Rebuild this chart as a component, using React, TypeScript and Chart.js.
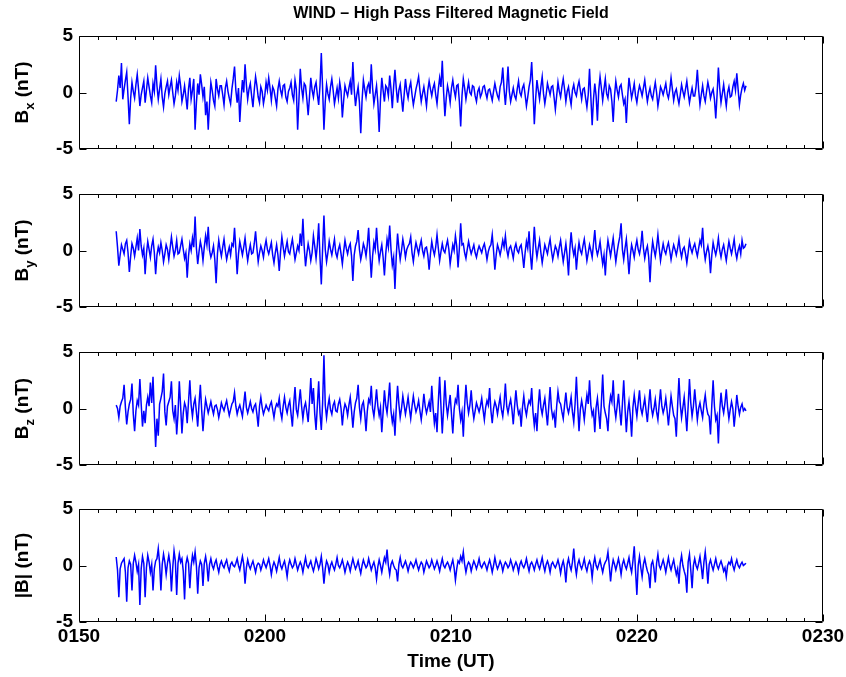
import React, { useEffect, useRef } from "react";
import { Chart, registerables } from "chart.js";

Chart.register(...registerables);

// Time axis: minutes after 01:50 UT
const X_MIN = 0;
const X_MAX = 40;
const X_TICKS = [0, 10, 20, 30, 40];
const X_TICK_LABELS = ["0150", "0200", "0210", "0220", "0230"];
const Y_TICKS = [-5, 0, 5];
const T_START = 2.0; // 01:52 UT
const T_END = 35.86; // ~02:25:52 UT

const TITLE = "WIND \u2013 High Pass Filtered Magnetic Field";
const X_TITLE = "Time (UT)";

// Bx (nT)
const bx = [
  -0.8, 0.2, 1.5, 0.4, 2.6, -0.6, 0.3, 1.1, 1.8, -0.4, -2.8, -0.5, 0.9, 0.1, -0.5, 0.7, 1.6, 0.3, -1.2, -0.2,
  0.4, 1.0, -0.9, 0.2, 1.3, 0.5, -0.3, -0.9, 0.8, 0.1, 2.4, 0.6, -0.6, 0.3, 1.2, -0.4, -1.3, -0.1, 0.5, 1.0,
  -0.2, 0.5, 1.1, 0.0, -1.0, -0.3, 0.9, 0.2, 1.5, 0.6, -0.8, -0.2, 0.6, -0.4, -1.5, 0.3, 1.3, -0.6, 0.2, 1.2,
  -3.3, -0.9, 0.8, -0.2, 1.6, 0.7, -0.4, 0.5, -2.0, -0.8, -3.3, -1.0, 0.9, 0.2, -0.7, -1.2, 1.2, 0.3, -0.3, 0.6,
  0.6, -0.2, -1.1, 0.4, 1.0, 0.1, -0.5, -1.0, 0.3, 1.2, 2.3, 0.2, -0.9, 0.4, -2.6, -0.5, 1.1, 0.0, 2.5, 0.7,
  -0.6, 0.3, 0.8, -0.3, -1.3, 0.2, 1.4, 0.6, -0.4, -0.9, 0.5, 0.1, -1.0, -0.3, 0.9, 0.2, 1.3, 0.4, -0.7, 0.5,
  0.2, -0.5, -1.2, 0.3, 1.0, 0.2, -0.3, 0.6, 0.7, -0.4, -0.8, 0.1, 0.4, 0.9, -0.2, -0.7, 1.1, 0.3, -3.3, -0.6,
  2.1, 0.4, -0.5, 0.8, 0.6, -0.6, -2.0, -0.4, 1.3, 0.2, -0.4, 0.5, 0.9, -0.2, -1.1, 0.6, 3.5, 0.3, -3.3, -0.8,
  0.7, -0.1, -0.6, 0.5, 1.2, 0.2, -1.0, -0.3, 0.4, -0.5, 0.9, 0.1, -2.2, -0.7, 0.6, 0.1, -0.3, 0.4, 1.0, -0.2,
  2.7, 0.3, -1.2, -0.2, 0.5, -0.9, -3.6, -0.7, 1.1, 0.3, -0.4, 0.5, 0.8, -0.1, 2.5, 0.4, -1.0, -0.2, 0.6, -0.9,
  -3.5, -0.6, 1.3, 0.2, -0.8, 0.6, 0.4, -0.3, 1.5, 0.3, -1.4, 0.5, 2.0, 0.4, -0.9, 0.2, 0.7, -0.5, -1.7, -0.2,
  1.2, 0.1, -0.5, 0.4, 0.9, -0.2, -1.1, -0.4, 0.3, 0.8, 1.4, 0.2, -0.8, -0.1, 0.5, -0.3, -1.2, 0.2, 1.0, 0.3,
  -0.3, 0.4, 0.8, -0.2, -1.0, 0.3, 1.3, 0.5, 2.8, 0.1, -2.1, -0.5, 0.6, 0.0, -0.9, 0.4, 1.1, 0.2, -0.4, 0.6,
  0.7, -0.8, -3.0, -0.3, 1.2, 0.4, -0.6, 0.2, 0.9, 0.0, -0.2, 0.6, 0.5, -0.3, -0.8, 0.1, 0.4, -0.4, -0.1, 0.5,
  0.6, 0.0, -0.5, 0.2, 0.3, -0.2, -0.7, 0.1, 0.8, 0.2, -0.3, -0.6, 0.5, 0.9, 2.2, 0.3, -1.1, 0.4, 2.3, 0.1,
  -0.8, -0.2, 0.4, -0.3, -0.6, 0.3, 1.0, 0.0, -0.3, 0.4, 0.7, -0.2, -1.2, -0.4, 0.5, 1.1, 2.7, 0.2, -2.8, -0.6,
  1.1, 0.2, -0.6, 0.5, 1.4, -0.1, -1.0, -0.2, 0.8, 0.3, -0.2, 0.5, 0.6, -0.4, -1.5, -0.3, 0.9, 0.1, -0.4, 0.5,
  1.2, 0.3, -0.8, 0.1, 0.5, -0.4, -1.1, 0.2, 0.7, 0.0, -0.3, 0.5, 1.0, 0.2, -0.6, 0.3, 0.4, -0.5, -1.3, -0.2,
  2.1, -0.4, -2.9, -0.6, 0.8, -0.3, -2.5, 0.2, 1.4, 0.4, -0.7, 0.3, 1.2, -0.1, -0.5, 0.6, 0.3, -0.8, -2.6, -0.3,
  1.0, 0.2, -0.4, 0.5, 0.7, -0.2, -1.0, -0.6, -2.7, -0.4, 1.3, 0.4, -0.5, 0.1, 0.8, -0.3, -0.9, 0.0, 0.6, 0.2,
  -0.3, 0.4, 1.1, 0.1, -0.8, -0.1, 0.4, -0.3, -0.6, 0.2, 0.9, 0.0, -1.2, -0.4, 0.5, 0.2, -0.2, 0.3, 0.8, -0.1,
  -0.5, 0.2, 1.3, 0.3, -0.7, 0.0, 0.3, -0.4, -1.0, -0.2, 0.7, 0.1, -0.4, 0.3, 1.0, 0.0, -0.9, -0.2, 0.4, -0.3,
  -0.3, 0.5, 2.0, 0.2, -1.1, -0.2, 0.6, -0.3, -0.8, 0.1, 0.9, 0.3, -0.5, 0.0, 0.3, -0.6, -2.3, -0.2, 2.2, 0.4,
  -0.9, -0.1, 0.7, -0.3, -1.2, 0.0, 0.5, -0.4, -0.3, 0.5, 1.0, 0.2, 1.7, 0.3, -1.1, -0.2, 0.4, 0.8, 0.2, 0.6,
];

// By (nT)
const by = [
  1.7, 0.3, -1.35, -0.4, 0.5, 0.1, -0.3, 0.6, 0.9, -0.2, -1.9, -0.5, 0.6, 0.2, -0.5, 0.3, 1.1, 0.0, 1.9, 0.4,
  -0.4, 0.2, -2.1, -0.3, 0.8, 0.1, -0.6, 0.4, 1.0, -0.2, -2.1, -0.4, 0.3, -0.2, 0.7, 0.0, -1.0, -0.3, 0.5, 0.1,
  -0.8, 0.2, 1.2, 0.3, -0.5, 0.0, 0.9, -0.3, -0.2, 0.4, 1.0, 0.1, -0.7, -0.2, -2.4, -0.5, 0.6, 0.0, 1.1, 0.3,
  3.0, 0.2, -1.2, -0.1, 0.8, 0.2, -0.9, 0.3, 1.3, 0.5, 2.1, 0.0, -0.6, -0.2, 0.4, -0.8, -2.9, -0.3, 0.9, 0.1,
  -0.5, 0.3, 1.0, 0.0, -0.8, -0.2, 0.3, -0.4, 0.6, 0.4, 2.0, 0.1, -2.1, -0.3, 0.8, 0.2, -0.4, 0.3, 1.1, 0.0,
  -0.9, -0.1, 0.5, -0.3, -0.2, 0.6, 1.7, 0.2, -1.0, -0.2, 0.4, 0.0, -0.6, 0.3, 0.9, 0.1, -0.3, 0.2, 0.7, -0.4,
  -1.1, -0.2, 0.5, -0.4, -1.8, -0.1, 1.2, 0.3, -0.5, 0.2, 0.8, -0.1, -0.3, 0.4, 1.0, 0.1, -0.8, -0.2, 0.4, 0.0,
  1.5, 0.4, 2.8, 0.3, -1.4, -0.3, 0.6, 0.0, -0.9, -0.2, 1.3, 0.4, -0.7, 0.5, 2.4, -0.6, -3.0, 0.2, 3.1, 0.1,
  -1.0, -0.2, 0.8, 0.1, -0.4, 0.3, 1.0, -0.2, -0.6, 0.1, 0.5, -0.3, -1.2, -0.1, 0.9, 0.2, -0.3, 0.3, 0.6, -0.5,
  -2.7, -0.4, 0.4, 0.8, 1.8, 0.1, -0.8, -0.2, 0.6, 0.2, -0.5, 0.5, 2.0, -0.3, -2.4, -0.5, 0.7, 0.1, 2.0, 0.2,
  -0.9, -0.1, 0.5, -0.6, -2.2, -0.3, 1.0, 0.3, 2.2, 0.1, -1.3, -0.6, -3.4, -0.5, 1.5, 0.2, -0.8, 0.0, 1.0, 0.3,
  -0.6, 0.1, 0.4, 0.6, 1.2, -0.2, -1.0, 0.0, 0.7, 0.2, -0.3, 0.4, 0.9, 0.0, -0.5, 0.2, 0.3, -0.4, -1.7, -0.3,
  0.8, 0.1, -0.4, 0.3, 1.4, 0.2, -0.9, -0.1, 0.6, 0.0, -0.2, 0.4, 0.9, 0.1, -1.2, -0.3, 0.5, 0.0, 1.3, 0.4,
  -1.5, 0.2, 2.4, 0.5, 0.6, -0.2, -0.7, 0.1, 0.8, 0.2, -0.3, 0.1, 0.5, -0.2, -0.6, 0.0, 0.4, 0.1, -0.2, 0.3,
  0.6, 0.0, -0.8, -0.1, 0.3, 0.5, 1.4, 0.0, -1.7, -0.4, 0.5, 0.1, -0.4, 0.2, 0.9, 0.3, 1.3, 0.1, -0.5, 0.2,
  0.4, -0.1, -0.7, 0.2, 0.6, 0.0, -0.2, 0.3, 0.5, -0.4, -1.55, -0.2, 0.8, 0.2, 1.7, -0.3, -1.7, 0.1, 2.1, 0.4,
  -0.6, 0.2, 0.9, -0.2, -1.1, -0.3, 0.5, 0.1, -0.3, 0.4, 1.0, 0.0, -0.8, -0.2, 0.4, 0.1, -0.5, 0.3, 0.9, -0.1,
  -1.0, -0.2, 0.6, -0.5, -2.2, 0.1, 1.6, 0.3, -0.4, 0.2, -1.7, -0.3, 0.7, 0.0, -0.3, 0.4, 1.0, 0.1, -0.9, -0.2,
  0.5, 0.0, -0.6, 0.6, 1.8, 0.2, -0.4, 0.1, 0.8, -0.3, -1.2, -0.4, -2.2, -0.2, 0.9, 0.2, -0.5, 0.3, 1.1, 0.0,
  -1.0, -0.1, 0.6, 1.2, 2.4, 0.1, -0.8, 0.2, 1.0, -0.4, -2.1, -0.5, 0.5, 0.0, -0.6, 0.3, 0.9, 0.1, -0.3, 0.4,
  1.75, 0.2, -0.7, 0.0, 0.4, -0.6, -2.8, -0.4, 0.8, 0.1, -0.5, 0.3, 1.4, 0.2, -0.9, -0.1, 0.6, 0.0, -0.3, 0.3,
  0.7, 0.0, -0.8, -0.1, 0.5, 0.1, -0.4, 0.2, 1.0, 0.0, -0.6, 0.1, 0.3, -0.3, -1.1, -0.2, 0.8, 0.2, -0.2, 0.3,
  0.6, 0.0, -0.5, 0.2, 0.9, 0.5, 2.0, 0.1, -0.8, -0.1, 0.4, -0.3, -2.0, -0.4, 0.7, 0.1, -0.4, 0.2, 1.1, 0.0,
  -0.6, 0.1, 0.5, -0.2, -0.9, 0.0, 0.8, 0.2, -0.3, 0.3, 1.0, -0.1, -0.7, 0.0, 0.4, -0.3, 0.9, 0.2, 0.3, 0.6,
];

// Bz (nT)
const bz = [
  0.3, 0.0, -0.8, 0.2, 0.6, 0.9, 2.1, 0.1, -1.4, -0.3, 0.4, 0.8, 2.2, -0.5, -2.0, -0.2, 0.7, 0.3, 2.6, 0.4,
  -1.6, -0.2, -1.3, 0.3, 1.0, 0.2, 2.3, 0.5, 2.8, -0.6, -3.4, -0.9, -2.4, 0.4, 0.9, 1.5, 3.1, -0.3, -1.5, 0.2,
  0.6, 1.0, 2.4, -0.2, -0.9, 0.3, -2.3, -0.5, 2.4, 0.2, -2.2, -0.4, 0.5, 0.1, -1.3, 0.6, 2.5, 0.3, -0.7, 0.4,
  0.9, -0.3, -1.6, 0.4, 2.1, -0.1, -2.0, -0.4, 0.8, 0.2, -0.4, 0.1, 0.6, 0.0, -0.5, 0.2, 0.3, -0.1, -0.8, -0.2,
  0.5, 0.1, -0.2, 0.3, 0.7, 0.0, -0.6, -0.1, 0.4, 0.6, 1.4, 0.2, -0.5, 0.0, 0.3, -0.2, -0.7, 0.4, 1.5, 0.1,
  -0.4, 0.1, 0.6, 0.0, -0.3, 0.2, 0.4, -0.5, -1.6, 0.2, 1.0, 0.1, -0.5, -0.1, 0.3, 0.0, -0.2, 0.3, 0.6, -0.1,
  -0.8, 0.0, 0.4, 0.2, 0.9, -0.3, -0.9, 0.2, 1.0, 0.1, -0.4, 0.3, 0.7, -0.5, -1.6, 0.4, 1.9, -0.1, -0.6, 0.5,
  1.7, 0.2, -0.9, 0.1, 0.5, -0.3, -1.2, 0.6, 2.7, 0.4, 1.8, -0.5, -1.9, 0.3, 2.4, -0.4, -1.9, 0.5, 4.7, 0.3,
  -0.8, 0.2, 0.9, -0.1, -0.5, 0.3, 0.6, -0.2, -0.3, 0.4, 0.8, 0.0, -1.5, -0.2, 0.4, 0.1, -0.6, 0.3, 1.0, -0.2,
  -1.7, -0.3, 0.5, 0.9, 2.1, 0.1, -0.9, 0.3, 0.6, -0.4, -2.0, -0.2, 0.8, 0.5, 2.0, 0.0, -0.7, 0.4, 1.7, 0.2,
  -0.6, 0.1, -2.1, -0.3, 1.6, 0.3, -0.4, 0.8, 2.3, -0.2, -1.2, -0.5, -2.4, 0.1, 2.0, 0.4, -0.8, 0.0, 1.1, 0.3,
  -0.5, 0.2, 1.0, 0.0, -0.9, 0.2, 1.1, 0.3, -0.3, 0.1, 0.7, -0.2, -1.0, 0.0, 1.3, 0.2, -0.4, 0.1, 0.6, -0.3,
  2.0, 0.1, -1.3, -0.4, -2.1, 0.6, 2.8, 0.2, -2.2, 0.0, 2.5, 0.4, -0.6, 0.3, 1.2, -0.5, -2.2, -0.1, 0.8, 0.5,
  2.1, 0.0, -1.0, -0.3, -2.5, 0.2, 2.1, 0.5, -0.4, 0.3, 1.6, 0.0, -0.9, -0.2, 0.5, 0.1, -0.3, 0.2, 0.9, -0.1,
  -1.0, 0.1, 0.7, 0.3, 1.8, -0.2, -1.3, 0.0, 0.6, 0.2, -0.5, 0.3, 1.0, -0.1, -0.7, 0.4, 2.2, 0.2, -0.4, 0.3,
  0.8, -0.1, -1.4, 0.2, 1.6, 0.3, -0.5, -0.2, -1.6, 0.1, 1.1, 0.0, -0.6, 0.2, 0.7, 0.4, 1.8, -0.3, -1.5, -0.4,
  -2.0, 0.2, 1.7, 0.1, -0.5, 0.3, 0.9, -0.3, -1.5, 0.2, 1.9, 0.0, -0.8, -0.4, -1.7, 0.2, 1.5, 0.6, 0.4, -0.3,
  -0.9, 0.3, 1.4, 0.1, -0.4, 0.2, 1.0, -0.3, -1.2, 0.4, 2.8, 0.2, -2.0, -0.1, 0.7, 0.0, -1.0, 0.2, 1.2, 0.4,
  2.5, 0.3, -0.6, -0.2, -2.1, 0.1, 0.9, -0.4, -1.8, 0.5, 3.0, 0.2, -0.4, -0.9, -2.0, 0.2, 1.1, 0.6, 2.5, 0.1,
  -0.8, 0.2, 1.3, -0.2, -1.5, 0.4, 2.5, 0.0, -2.1, -0.3, 0.6, -0.6, -2.5, 0.1, 1.2, 0.2, -0.7, 0.5, 1.6, 0.0,
  -0.5, 0.2, 0.9, -0.2, -1.2, 0.3, 1.7, 0.1, -0.6, 0.0, 0.8, -0.3, -1.0, 0.4, 1.7, 0.2, -0.4, 0.1, 0.9, -0.2,
  -1.5, -0.2, 1.1, 0.2, -0.6, -0.9, -2.5, 0.3, 2.7, 0.4, -0.8, 0.1, 1.0, -0.4, -2.0, 0.2, 2.6, 0.5, -0.7, 0.2,
  1.7, 0.3, -1.0, 0.0, 0.5, -0.2, -0.8, 0.4, 1.2, 0.1, -0.5, -0.7, -2.3, 0.3, 2.5, 0.2, -1.0, -0.6, -3.1, -0.2,
  1.4, 0.2, -0.4, 0.5, 1.7, 0.1, -0.9, -0.1, 0.6, 0.0, -1.6, -0.3, 1.2, 0.2, -0.5, 0.1, 0.4, -0.2, 0.0, -0.2,
];

// |B| (nT)
const bmag = [
  0.75, -0.4, -2.8, -0.3, 0.2, 0.4, 0.6, -0.6, -3.2, -0.2, 0.4, 0.1, -2.2, 0.2, 0.9, 0.3, -0.5, 0.1, -3.5, -0.3,
  0.8, 0.2, -2.8, -0.2, 0.9, 0.3, -0.6, 0.1, -2.2, -0.3, 0.4, 0.6, 1.5, 0.2, -2.2, 0.1, 1.0, 0.3, -0.8, 0.2,
  0.9, 0.1, -2.3, -0.2, 1.3, 0.4, -2.6, 0.2, 1.0, 0.3, 0.6, -0.5, -3.0, 0.1, 0.7, 0.2, -2.0, -0.1, 0.9, 0.3,
  1.2, 0.0, -2.5, -0.2, 0.4, 0.1, -1.8, 0.2, 0.8, 0.0, -1.4, 0.1, 0.6, 0.0, -0.3, 0.2, 0.5, -0.1, -0.6, 0.1,
  0.4, 0.0, -0.2, 0.2, 0.5, -0.1, -0.5, 0.1, 0.3, 0.0, -0.1, 0.2, 0.6, 0.0, -0.4, 0.2, 0.8, 0.1, -1.6, -0.2,
  0.5, 0.0, -0.3, 0.1, 0.4, -0.1, -0.6, 0.0, 0.2, 0.1, -0.4, 0.0, 0.5, 0.1, -0.2, 0.2, 0.6, 0.0, -0.8, -0.1,
  0.3, 0.0, -0.5, 0.1, 0.7, 0.0, -0.3, 0.1, 0.4, -0.2, -1.0, 0.0, 0.5, 0.1, -0.2, 0.0, 0.6, 0.1, -0.4, 0.0,
  0.3, 0.0, -0.6, 0.1, 0.7, 0.0, -0.2, 0.1, 0.4, -0.1, -0.5, 0.0, 0.6, 0.2, -0.3, 0.1, 0.8, -0.2, -1.6, -0.3,
  0.4, 0.1, -0.6, 0.0, 0.3, -0.1, -0.4, 0.1, 0.7, 0.0, -0.2, 0.1, 0.5, 0.0, -0.6, -0.1, 0.3, 0.0, -0.5, 0.1,
  0.6, 0.1, -0.3, 0.0, 0.4, -0.2, -0.7, 0.0, 0.5, 0.1, -0.2, 0.0, 0.6, 0.1, -0.4, 0.0, 0.3, -0.2, -1.2, -0.1,
  0.5, 0.0, -0.6, 0.1, 0.7, 0.3, 1.4, 0.0, -0.8, 0.1, 0.4, 0.0, -0.3, -0.4, -1.4, 0.1, 0.7, 0.0, -0.2, 0.1,
  0.4, 0.0, -0.5, 0.0, 0.3, 0.1, -0.2, 0.1, 0.5, 0.0, -0.4, 0.0, 0.3, 0.1, -0.6, -0.1, 0.4, 0.1, -0.2, 0.0,
  0.5, 0.1, -0.3, 0.0, 0.4, 0.0, -0.5, 0.1, 0.6, 0.0, -0.2, 0.1, 0.3, 0.0, -0.4, 0.1, 0.5, -0.2, -1.3, -0.3,
  0.4, 0.2, 0.8, 0.4, 1.2, 0.1, -0.6, 0.0, 0.3, 0.1, -0.5, 0.0, 0.4, 0.1, -0.3, 0.1, 0.6, 0.0, -0.2, 0.1,
  0.3, 0.0, -0.4, 0.1, 0.5, 0.0, -0.6, 0.0, 0.7, 0.1, -0.3, 0.0, 0.4, 0.1, -0.5, 0.0, 0.3, 0.1, -0.2, 0.0,
  0.5, 0.1, -0.4, 0.0, 0.3, 0.0, -0.6, 0.1, 0.4, 0.0, -0.2, 0.1, 0.6, 0.0, -0.5, 0.1, 0.3, 0.0, -0.4, 0.1,
  0.5, 0.0, -0.3, 0.2, 0.7, 0.0, -0.5, 0.1, 0.4, 0.0, -0.6, 0.1, 0.3, 0.0, -0.2, 0.1, 0.5, 0.0, -0.7, 0.0,
  0.4, -0.2, -1.5, 0.1, 0.6, 0.0, -0.4, 0.3, 1.5, 0.0, -0.8, 0.1, 0.5, 0.0, -0.3, 0.1, 0.6, -0.1, -0.5, 0.1,
  0.4, 0.0, -1.1, 0.1, 0.7, 0.0, -0.3, 0.1, 0.5, -0.1, -0.6, 0.0, 0.3, 0.5, 1.2, 0.0, -1.4, -0.2, 0.5, 0.1,
  -0.4, 0.1, 0.6, 0.0, -0.8, 0.1, 0.5, 0.0, -0.3, 0.2, 0.7, -0.1, -0.6, 0.4, 1.7, -0.5, -2.6, 0.0, 0.8, -0.2,
  -1.0, 0.1, 0.6, 0.0, -0.5, -0.8, -2.0, 0.1, 0.4, -0.3, -1.5, 0.2, 1.0, 0.0, -0.3, 0.1, 0.5, 0.0, -0.6, 0.1,
  0.7, 0.0, -0.4, 0.1, 0.5, -0.2, -0.8, -0.3, -1.6, 0.2, 0.9, 0.0, -0.5, -0.9, -2.4, 0.3, 1.0, -0.4, -2.0, 0.0,
  0.6, 0.0, -0.3, 0.2, 0.8, -0.1, -1.2, 0.3, 1.2, 0.0, -1.6, 0.1, 0.5, 0.0, -0.4, 0.1, 0.6, 0.0, -0.3, 0.1,
  0.4, 0.0, -0.5, -0.2, -1.0, 0.0, 0.3, 0.1, 0.6, 0.0, -0.4, 0.1, 0.5, 0.0, -0.2, 0.1, 0.3, 0.0, 0.1, 0.2,
];

const FONT_FAMILY = '"Liberation Sans", Arial, Helvetica, sans-serif';
const AXIS_SIZE = 19;
const LABEL_FONT = `bold ${AXIS_SIZE}px ${FONT_FAMILY}`;
const SUB_FONT = `bold 13px ${FONT_FAMILY}`;
const TITLE_FONT = `bold 16px ${FONT_FAMILY}`;

function toPoints(values: number[]) {
  const n = values.length;
  const dt = (T_END - T_START) / (n - 1);
  return values.map((v, i) => ({ x: T_START + i * dt, y: v }));
}

const matlabPlugin = {
  id: "matlabBox",
  afterDraw(chart: any, _args: any, opts: any) {
    const { ctx, chartArea: a } = chart;
    const xs = chart.scales.x;
    const ys = chart.scales.y;
    const L = Math.round(a.left) + 0.5;
    const R = Math.round(a.right) - 0.5;
    const T = Math.round(a.top) + 0.5;
    const B = Math.round(a.bottom) - 0.5;
    ctx.save();
    ctx.strokeStyle = "#000";
    ctx.lineWidth = 1;
    ctx.beginPath();
    ctx.rect(L, T, R - L, B - T);
    // x ticks: major every 10 min, minor every minute, inward top & bottom
    for (let m = X_MIN; m <= X_MAX; m++) {
      const px = Math.round(xs.getPixelForValue(m)) + 0.5;
      const len = m % 10 === 0 ? 7 : 3.5;
      ctx.moveTo(px, B);
      ctx.lineTo(px, B - len);
      ctx.moveTo(px, T);
      ctx.lineTo(px, T + len);
    }
    for (const v of Y_TICKS) {
      const py = Math.round(ys.getPixelForValue(v)) + 0.5;
      ctx.moveTo(L, py);
      ctx.lineTo(L + 7, py);
      ctx.moveTo(R, py);
      ctx.lineTo(R - 7, py);
    }
    ctx.stroke();

    // y-axis label with subscript
    ctx.fillStyle = "#000";
    ctx.textAlign = "left";
    ctx.textBaseline = "alphabetic";
    const cy = (a.top + a.bottom) / 2;
    ctx.translate(28, cy);
    ctx.rotate(-Math.PI / 2);
    const main: string = opts.main || "";
    const sub: string = opts.sub || "";
    const rest: string = opts.rest || "";
    ctx.font = LABEL_FONT;
    const w1 = ctx.measureText(main).width;
    ctx.font = SUB_FONT;
    const w2 = sub ? ctx.measureText(sub).width : 0;
    ctx.font = LABEL_FONT;
    const w3 = ctx.measureText(rest).width;
    const x0 = -(w1 + w2 + w3) / 2;
    ctx.font = LABEL_FONT;
    ctx.fillText(main, x0, 0);
    if (sub) {
      ctx.font = SUB_FONT;
      ctx.fillText(sub, x0 + w1, 6);
    }
    ctx.font = LABEL_FONT;
    ctx.fillText(rest, x0 + w1 + w2, 0);
    ctx.restore();

    if (opts.title) {
      ctx.save();
      ctx.fillStyle = "#000";
      ctx.font = TITLE_FONT;
      ctx.textAlign = "center";
      ctx.textBaseline = "middle";
      ctx.fillText(opts.title, (a.left + a.right) / 2, 14);
      ctx.restore();
    }
  },
};

type PanelProps = {
  values: number[];
  main: string;
  sub?: string;
  rest: string;
  top: number;
  height: number;
  padTop: number;
  padBottom: number;
  showX?: boolean;
  title?: string;
};

function Panel(p: PanelProps) {
  const ref = useRef<HTMLCanvasElement | null>(null);
  useEffect(() => {
    if (!ref.current) return;
    const chart = new Chart(ref.current, {
      type: "line",
      data: {
        datasets: [
          {
            data: toPoints(p.values),
            borderColor: "#0000ff",
            borderWidth: 1.5,
            pointRadius: 0,
            tension: 0,
            fill: false,
          },
        ],
      },
      options: {
        animation: false,
        responsive: false,
        maintainAspectRatio: false,
        events: [],
        layout: { padding: { left: 0, right: 23, top: p.padTop, bottom: p.padBottom } },
        plugins: {
          legend: { display: false },
          tooltip: { enabled: false },
          title: { display: false },
          matlabBox: { main: p.main, sub: p.sub, rest: p.rest, title: p.title },
        } as any,
        scales: {
          x: {
            type: "linear",
            min: X_MIN,
            max: X_MAX,
            display: !!p.showX,
            grid: { display: false, drawTicks: false },
            border: { display: false },
            afterBuildTicks: (s: any) => {
              s.ticks = X_TICKS.map((v) => ({ value: v }));
            },
            afterFit: (s: any) => {
              if (p.showX) s.height = 55;
              s.paddingLeft = 0;
              s.paddingRight = 0;
            },
            ticks: {
              autoSkip: false,
              maxRotation: 0,
              padding: 3,
              color: "#000",
              font: { family: FONT_FAMILY, size: AXIS_SIZE, weight: "bold" },
              callback: (v: any) => {
                const i = X_TICKS.indexOf(Number(v));
                return i >= 0 ? X_TICK_LABELS[i] : "";
              },
            },
            title: {
              display: !!p.showX,
              text: X_TITLE,
              color: "#000",
              font: { family: FONT_FAMILY, size: AXIS_SIZE, weight: "bold" },
              padding: { top: 0, bottom: 4 },
            },
          } as any,
          y: {
            type: "linear",
            min: -5,
            max: 5,
            grid: { display: false, drawTicks: false },
            border: { display: false },
            afterBuildTicks: (s: any) => {
              s.ticks = Y_TICKS.map((v) => ({ value: v }));
            },
            afterFit: (s: any) => {
              s.width = 79;
              s.paddingTop = 0;
              s.paddingBottom = 0;
            },
            ticks: {
              padding: 6,
              color: "#000",
              font: { family: FONT_FAMILY, size: AXIS_SIZE, weight: "bold" },
              callback: (v: any) => String(v),
            },
          } as any,
        },
      },
      plugins: [matlabPlugin],
    });
    return () => chart.destroy();
  }, []);
  return (
    <canvas
      ref={ref}
      width={846}
      height={p.height}
      style={{ position: "absolute", left: 0, top: p.top, width: 846, height: p.height }}
    />
  );
}

export default function App() {
  return (
    <div
      style={{
        position: "absolute",
        left: 0,
        top: 0,
        width: 846,
        height: 677,
        background: "#fff",
        overflow: "hidden",
      }}
    >
      <Panel values={bx} main="B" sub="x" rest=" (nT)" top={0} height={160} padTop={36} padBottom={11} title={TITLE} />
      <Panel values={by} main="B" sub="y" rest=" (nT)" top={184} height={133} padTop={10} padBottom={10} />
      <Panel values={bz} main="B" sub="z" rest=" (nT)" top={342} height={133} padTop={10} padBottom={10} />
      <Panel values={bmag} main="|B| (nT)" rest="" top={499} height={178} padTop={10} padBottom={0} showX />
    </div>
  );
}
